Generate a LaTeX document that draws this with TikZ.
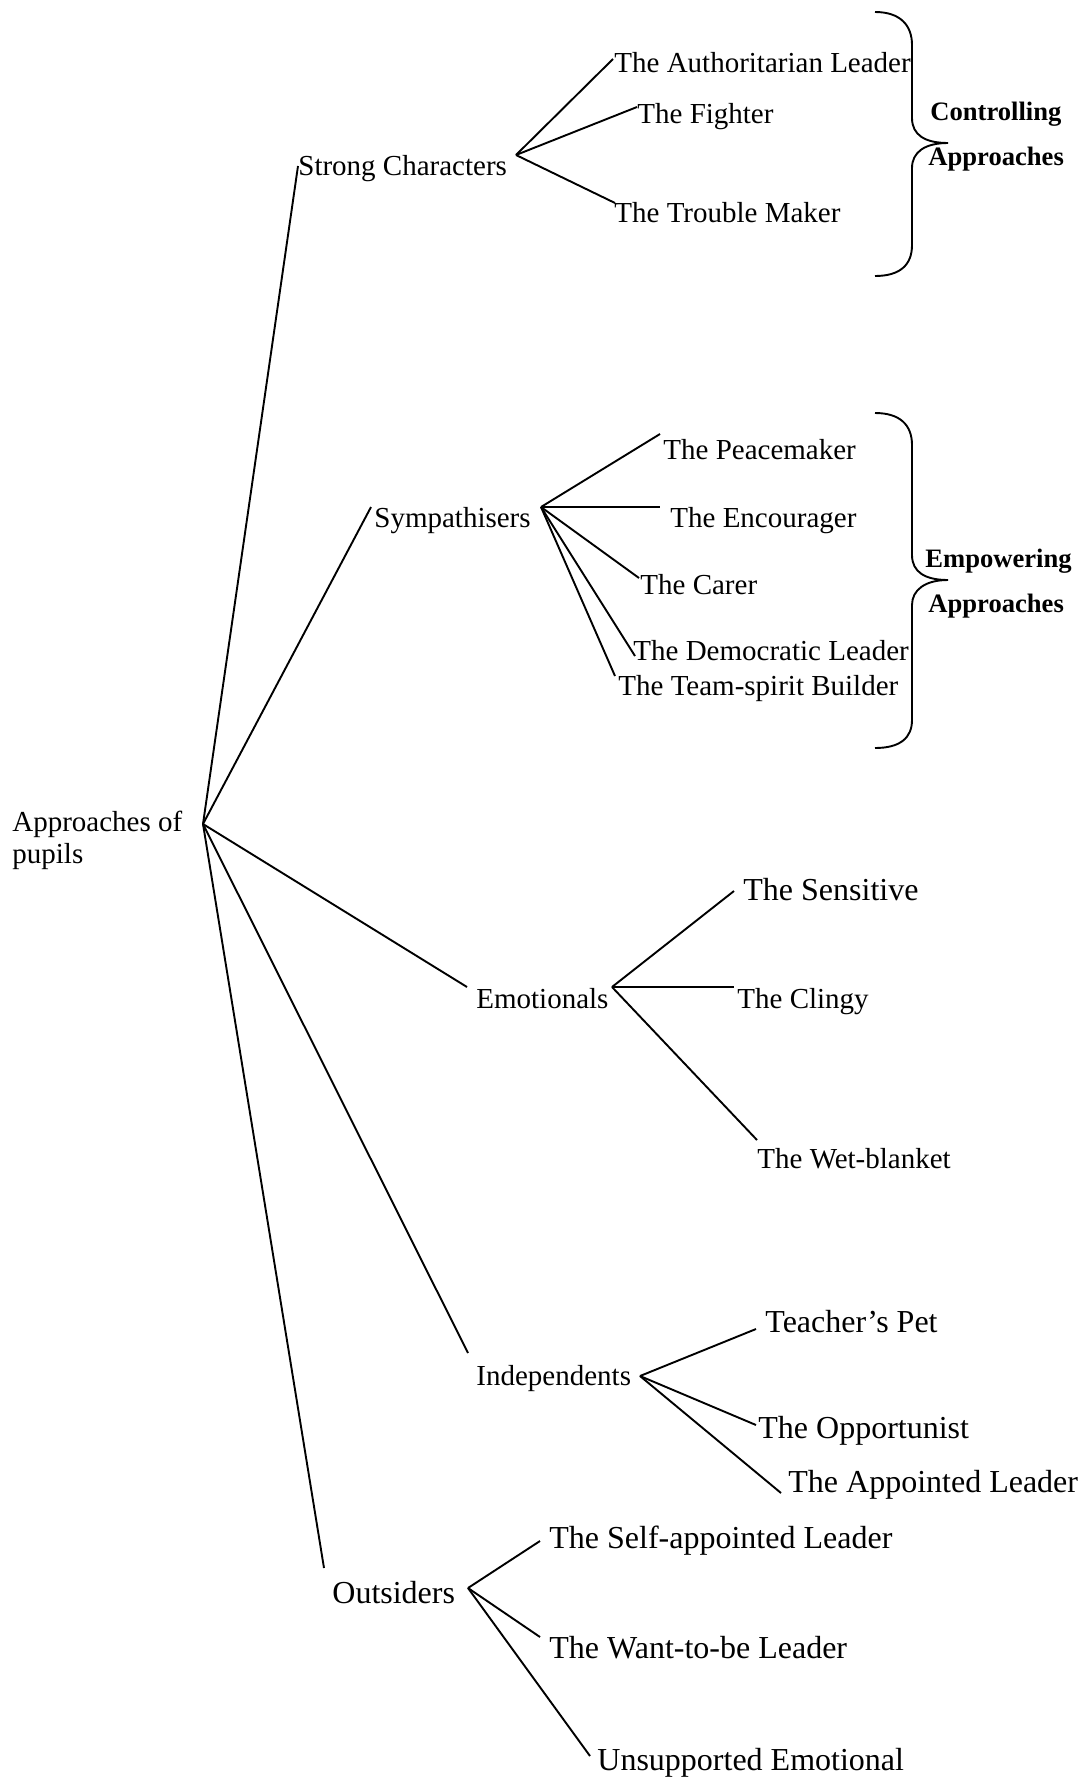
\documentclass[tikz,border=0pt]{standalone}
\usepackage{fontspec}
\setmainfont{Liberation Serif}
\tikzset{
  lbl/.style={anchor=base west, inner sep=0pt, font=\fontsize{14.5}{17}\selectfont},
  lblbig/.style={anchor=base west, inner sep=0pt, font=\fontsize{16}{19}\selectfont},
  grp/.style={anchor=base west, inner sep=0pt, font=\bfseries\fontsize{13.3}{16}\selectfont},
  link/.style={line width=0.95pt, line join=round},
  bracket/.style={line width=0.95pt}
}
\begin{document}
\begin{tikzpicture}[x=0.5pt, y=-0.5pt]
  \fill[white] (0,0) rectangle (1085,1778);
  \useasboundingbox (0,0) rectangle (1085,1778);

  % root
  \node[lbl] (root)  at (12,831) {Approaches of};
  \node[lbl] (rootb) at (12,863) {pupils};
  \coordinate (hubR) at (203,824);

  % first-level categories
  \node[lbl]    (strong) at (298,175)  {Strong Characters};
  \node[lbl]    (symp)   at (374,527)  {Sympathisers};
  \node[lbl]    (emo)    at (476,1008) {Emotionals};
  \node[lbl]    (indep)  at (476,1385) {Independents};
  \node[lblbig] (outs)   at (332,1603) {Outsiders};

  \coordinate (strongIn) at (298,166);
  \coordinate (sympIn)   at (371,507);
  \coordinate (emoIn)    at (467,987);
  \coordinate (indepIn)  at (468,1353);
  \coordinate (outsIn)   at (324,1568);

  \coordinate (hubS) at (516,155);
  \coordinate (hubY) at (541,507);
  \coordinate (hubE) at (612,987);
  \coordinate (hubI) at (640,1376);
  \coordinate (hubO) at (468,1588);

  % strong characters
  \node[lbl] (auth)    at (614,72)  {The Authoritarian Leader};
  \node[lbl] (fighter) at (637,123) {The Fighter};
  \node[lbl] (trouble) at (614,222) {The Trouble Maker};
  \coordinate (authIn)    at (613,59);
  \coordinate (fighterIn) at (637,107);
  \coordinate (troubleIn) at (615,203);

  % sympathisers
  \node[lbl] (peace) at (663,459) {The Peacemaker};
  \node[lbl] (enc)   at (670,527) {The Encourager};
  \node[lbl] (carer) at (640,594) {The Carer};
  \node[lbl] (demo)  at (633,660) {The Democratic Leader};
  \node[lbl] (team)  at (618,695) {The Team-spirit Builder};
  \coordinate (peaceIn) at (660,434);
  \coordinate (encIn)   at (660,507);
  \coordinate (carerIn) at (639,578);
  \coordinate (demoIn)  at (635,656);
  \coordinate (teamIn)  at (615,676);

  % emotionals
  \node[lblbig] (sens)  at (743,900)  {The Sensitive};
  \node[lbl]    (cling) at (737,1008) {The Clingy};
  \node[lbl]    (wet)   at (757,1168) {The Wet-blanket};
  \coordinate (sensIn)  at (734,891);
  \coordinate (clingIn) at (734,987);
  \coordinate (wetIn)   at (757,1140);

  % independents
  \node[lblbig] (pet)   at (765,1332) {Teacher’s Pet};
  \node[lblbig] (opp)   at (758,1438) {The Opportunist};
  \node[lblbig] (appt)  at (788,1492) {The Appointed Leader};
  \coordinate (petIn)  at (756,1329);
  \coordinate (oppIn)  at (756,1425);
  \coordinate (apptIn) at (781,1493);

  % outsiders
  \node[lblbig] (self)  at (549,1548) {The Self-appointed Leader};
  \node[lblbig] (want)  at (549,1658) {The Want-to-be Leader};
  \node[lblbig] (unsup) at (597,1770) {Unsupported Emotional};
  \coordinate (selfIn)  at (540,1541);
  \coordinate (wantIn)  at (540,1637);
  \coordinate (unsupIn) at (590,1756);

  % group labels
  \node[grp] (ctrl)  at (930,120) {Controlling};
  \node[grp] (ctrlb) at (928,165) {Approaches};
  \node[grp] (emp)   at (925,567) {Empowering};
  \node[grp] (empb)  at (928,612) {Approaches};

  % connectors
  \foreach \a in {strongIn, sympIn, emoIn, indepIn, outsIn}
    \draw[link] (hubR) -- (\a);
  \foreach \a in {authIn, fighterIn, troubleIn}
    \draw[link] (hubS) -- (\a);
  \foreach \a in {peaceIn, encIn, carerIn, demoIn, teamIn}
    \draw[link] (hubY) -- (\a);
  \foreach \a in {sensIn, clingIn, wetIn}
    \draw[link] (hubE) -- (\a);
  \foreach \a in {petIn, oppIn, apptIn}
    \draw[link] (hubI) -- (\a);
  \foreach \a in {selfIn, wantIn, unsupIn}
    \draw[link] (hubO) -- (\a);

  % curly brackets
  \draw[bracket] (875,12) .. controls (900,12) and (912,25) .. (912,45)
    -- (912,118) .. controls (912,135) and (925,143) .. (948,143)
    .. controls (925,143) and (912,152) .. (912,168)
    -- (912,245) .. controls (912,265) and (900,276) .. (875,276);
  \draw[bracket] (875,413) .. controls (900,413) and (912,425) .. (912,445)
    -- (912,555) .. controls (912,572) and (925,580) .. (948,580)
    .. controls (925,580) and (912,590) .. (912,605)
    -- (912,720) .. controls (912,738) and (900,748) .. (875,748);
\end{tikzpicture}
\end{document}
